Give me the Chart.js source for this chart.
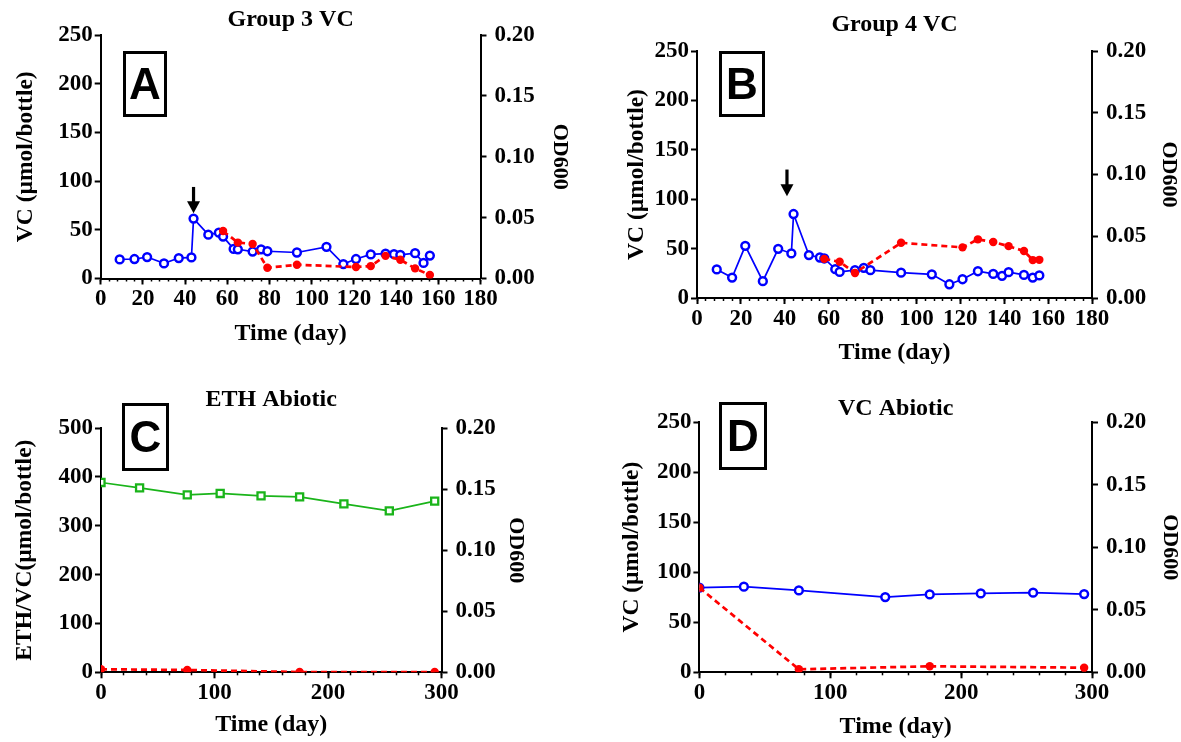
<!DOCTYPE html>
<html>
<head>
<meta charset="utf-8">
<script src="https://cdn.jsdelivr.net/npm/chart.js@4.4.1/dist/chart.umd.min.js"></script>
<style>
  html, body { margin: 0; padding: 0; background: #fff; overflow: hidden; width: 1181px; height: 742px; }
  canvas { position: absolute; }
  .tag { position: absolute; box-sizing: border-box; border: 3px solid #000; color: #000;
         font: bold 44px 'Liberation Sans', Arial, sans-serif;
         display: flex; align-items: center; justify-content: center; }
</style>
</head>
<body>
<canvas id="panelA" width="590" height="370" style="left:0;top:0"></canvas>
<canvas id="panelB" width="600" height="370" style="left:590px;top:0"></canvas>
<canvas id="panelC" width="590" height="372" style="left:0;top:370px"></canvas>
<canvas id="panelD" width="600" height="372" style="left:590px;top:370px"></canvas>
<div class="tag" style="left:123px;top:51px;width:44px;height:66px">A</div>
<div class="tag" style="left:719px;top:51px;width:46px;height:66px">B</div>
<div class="tag" style="left:122px;top:403px;width:47px;height:68px">C</div>
<div class="tag" style="left:719px;top:402px;width:48px;height:68px">D</div>
<script>
// ---- Group 3 VC ----
const g3Days  = [9, 16, 22, 30, 37, 43, 44, 51, 56, 58, 63, 65, 72, 76, 79, 93, 107, 115, 121, 128, 135, 139, 142, 149, 153, 156];
const g3VC    = [19.6, 20, 22, 15.5, 21, 21.6, 61.5, 45, 47, 43, 30.4, 30, 27.7, 30, 28, 26.7, 32.5, 14.8, 20, 24.7, 25.5, 25, 24.3, 26, 16, 23.5];
const g3OdDays = [58, 65, 72, 79, 93, 121, 128, 135, 142, 149, 156];
const g3OD     = [0.039, 0.0295, 0.0284, 0.0088, 0.0113, 0.0094, 0.0102, 0.0186, 0.0154, 0.0083, 0.0029];
const g3Arrow  = [44, 94, 67];   // day, shaft top, tip (µmol/bottle)

// ---- Group 4 VC ----
const g4Days  = [9, 16, 22, 30, 37, 43, 44, 51, 56, 58, 63, 65, 72, 76, 79, 93, 107, 115, 121, 128, 135, 139, 142, 149, 153, 156];
const g4VC    = [28.9, 20.7, 52.8, 17, 49.8, 45.1, 85, 43.4, 41, 40, 29.2, 26.4, 28.2, 30.5, 28.2, 25.6, 24, 13.9, 19, 27.1, 24.4, 22.4, 26.1, 23.4, 20.7, 22.8];
const g4OdDays = [58, 65, 72, 93, 121, 128, 135, 142, 149, 153, 156];
const g4OD     = [0.0317, 0.0293, 0.0203, 0.0447, 0.041, 0.0475, 0.0453, 0.042, 0.038, 0.0307, 0.0309];
const g4Arrow  = [41, 130, 103];

// ---- ETH Abiotic ----
const ethDays    = [0, 34, 76, 105, 141, 175, 214, 254, 294];
const ethAmount  = [388.5, 377.5, 363.2, 366, 361.2, 359.1, 344.8, 330.5, 350.3];
const ethOdDays  = [0, 76, 175, 294];
const ethOD      = [0.0025, 0.0019, 0.0002, 0.0002];

// ---- VC Abiotic ----
const vcAbDays   = [0, 34, 76, 142, 176, 215, 255, 294];
const vcAbAmount = [84.5, 85.5, 81.8, 75.1, 77.8, 78.8, 79.5, 78.1];
const vcAbOdDays = [0, 76, 176, 294];
const vcAbOD     = [0.0676, 0.0024, 0.0048, 0.0037];

// axis ranges and labels
const shortDays = { max: 180, major: 20, minor: 4 };
const longDays  = { max: 300, major: 100, minor: 20 };
const vcAxis  = { max: 250, step: 50, title: 'VC (µmol/bottle)' };
const ethAxis = { max: 500, step: 100, title: 'ETH/VC(µmol/bottle)' };
const odAxis  = { max: 0.2, step: 0.05, title: 'OD600' };

const SERIF = "'Liberation Serif', 'Times New Roman', serif";
const BLUE = '#0000ff', RED = '#ff0000', GREEN = '#1ab41a';

const xy = (xs, ys) => xs.map((x, i) => ({ x, y: ys[i] }));

function vcSeries(days, vals) {
  return { data: xy(days, vals), yAxisID: 'y', order: 2, borderColor: BLUE, borderWidth: 1.7,
           pointStyle: 'circle', pointRadius: 3.9, pointBorderWidth: 2.5,
           pointBorderColor: BLUE, pointBackgroundColor: '#fff' };
}
function ethSeries(days, vals) {
  return { data: xy(days, vals), yAxisID: 'y', order: 2, borderColor: GREEN, borderWidth: 1.7,
           pointStyle: 'rect', pointRadius: 5, pointBorderWidth: 2.3,
           pointBorderColor: GREEN, pointBackgroundColor: '#fff' };
}
function odSeries(days, vals) {
  return { data: xy(days, vals), yAxisID: 'y1', order: 1, borderColor: RED, borderWidth: 2.7,
           borderDash: [6, 4], pointStyle: 'circle', pointRadius: 4.2, pointBorderWidth: 0,
           pointBackgroundColor: RED, pointBorderColor: RED };
}

// black arrow marking an event day, placed through the chart's scales
const eventArrow = {
  id: 'eventArrow',
  afterDatasetsDraw(chart, args, opts) {
    if (!opts || !opts.at) return;
    const [day, from, to] = opts.at;
    const x = chart.scales.x.getPixelForValue(day);
    const yTop = chart.scales.y.getPixelForValue(from);
    const yTip = chart.scales.y.getPixelForValue(to);
    const ctx = chart.ctx;
    const head = 12, halfHead = 6.5, halfShaft = 1.6;
    ctx.save();
    ctx.fillStyle = '#000';
    ctx.fillRect(x - halfShaft, yTop, 2 * halfShaft, yTip - yTop - head + 1);
    ctx.beginPath();
    ctx.moveTo(x - halfHead, yTip - head);
    ctx.lineTo(x + halfHead, yTip - head);
    ctx.lineTo(x, yTip);
    ctx.closePath();
    ctx.fill();
    ctx.restore();
  }
};

const tickFont = { family: SERIF, size: 23, weight: 'bold' };
const axisGrid = { drawOnChartArea: false, drawTicks: true, tickLength: 6, tickWidth: 2, tickColor: '#000' };
const axisBorder = { display: true, color: '#000', width: 2 };

function panel(id, p) {
  new Chart(document.getElementById(id), {
    type: 'line',
    data: { datasets: p.datasets },
    options: {
      responsive: false, animation: false, devicePixelRatio: 1, events: [],
      layout: { padding: 0 },
      plugins: {
        legend: { display: false },
        tooltip: { enabled: false },
        title: {
          display: true, text: p.title, fullSize: false, color: '#000',
          font: { family: SERIF, size: 24, weight: 'bold', lineHeight: 1 },
          padding: { top: p.titlePad[0], bottom: p.titlePad[1] }
        },
        eventArrow: { at: p.arrow }
      },
      scales: {
        xMinor: {
          type: 'linear', position: 'bottom', weight: 0, min: 0, max: p.days.max,
          afterFit: s => { s.height = 0; },
          ticks: { display: false, stepSize: p.days.minor },
          grid: { drawOnChartArea: false, drawTicks: true, tickLength: 3, tickWidth: 1.5, tickColor: '#000' },
          border: { display: false }
        },
        x: {
          type: 'linear', position: 'bottom', weight: 1, min: 0, max: p.days.max,
          afterFit: s => { s.height = p.xHeight; },
          ticks: { stepSize: p.days.major, autoSkip: false, maxRotation: 0, color: '#000', font: tickFont, padding: 1 },
          grid: axisGrid, border: axisBorder,
          title: { display: true, text: 'Time (day)', color: '#000',
                   font: { family: SERIF, size: 24, weight: 'bold' },
                   padding: { top: 0, bottom: p.xTitlePad } }
        },
        y: {
          type: 'linear', position: 'left', min: 0, max: p.left.max,
          afterFit: s => { s.width = p.leftWidth; },
          ticks: { stepSize: p.left.step, color: '#000', font: tickFont, padding: 2 },
          grid: axisGrid, border: axisBorder,
          title: { display: true, text: p.left.title, color: '#000',
                   font: { family: SERIF, size: 23.5, weight: 'bold' },
                   padding: { top: p.yTitlePad, bottom: 0 } }
        },
        y1: {
          type: 'linear', position: 'right', min: 0, max: odAxis.max,
          afterFit: s => { s.width = p.rightWidth; },
          ticks: { stepSize: odAxis.step, color: '#000', font: tickFont, padding: 8,
                   callback: v => v.toFixed(2) },
          grid: axisGrid, border: axisBorder,
          title: { display: true, text: odAxis.title, color: '#000',
                   font: { family: SERIF, size: 22, weight: 'bold' },
                   padding: { top: p.y1TitlePad, bottom: 0 } }
        }
      }
    },
    plugins: [eventArrow]
  });
}

panel('panelA', {
  title: 'Group 3 VC', days: shortDays, left: vcAxis, arrow: g3Arrow,
  datasets: [vcSeries(g3Days, g3VC), odSeries(g3OdDays, g3OD)],
  titlePad: [8, 3], leftWidth: 100.7, rightWidth: 109.5, xHeight: 91.5,
  xTitlePad: 22, yTitlePad: 11.4, y1TitlePad: 16.8
});
panel('panelB', {
  title: 'Group 4 VC', days: shortDays, left: vcAxis, arrow: g4Arrow,
  datasets: [vcSeries(g4Days, g4VC), odSeries(g4OdDays, g4OD)],
  titlePad: [13, 14], leftWidth: 107, rightWidth: 98, xHeight: 72,
  xTitlePad: 3.1, yTitlePad: 32.9, y1TitlePad: 7.8
});
panel('panelC', {
  title: 'ETH Abiotic', days: longDays, left: ethAxis,
  datasets: [ethSeries(ethDays, ethAmount), odSeries(ethOdDays, ethOD)],
  titlePad: [17.5, 16.5], leftWidth: 101, rightWidth: 148.5, xHeight: 69.7,
  xTitlePad: 2.6, yTitlePad: 10.4, y1TitlePad: 60.8
});
panel('panelD', {
  title: 'VC Abiotic', days: longDays, left: vcAxis,
  datasets: [vcSeries(vcAbDays, vcAbAmount), odSeries(vcAbOdDays, vcAbOD)],
  titlePad: [26.5, 1.5], leftWidth: 109.4, rightWidth: 98, xHeight: 69.7,
  xTitlePad: 0.6, yTitlePad: 27.4, y1TitlePad: 7.3
});
</script>
</body>
</html>
